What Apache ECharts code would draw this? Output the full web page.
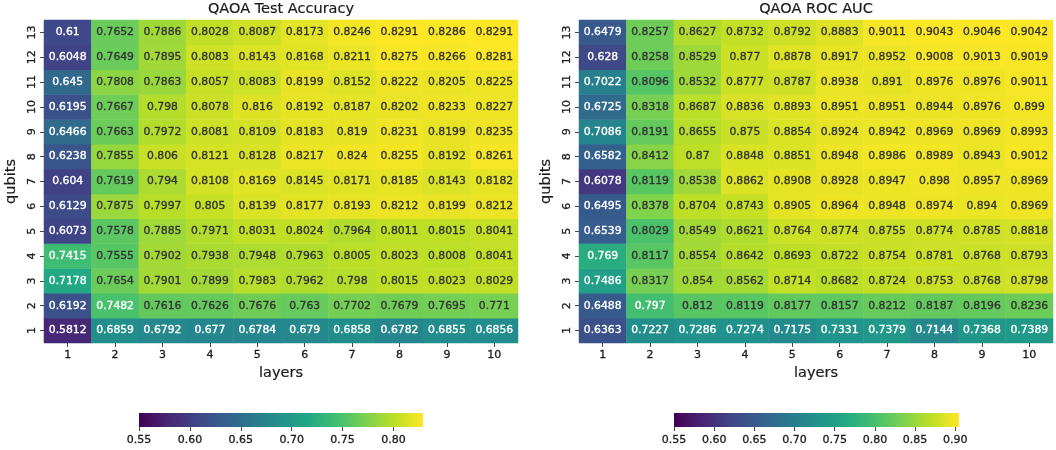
<!DOCTYPE html>
<html><head><meta charset="utf-8">
<script src="https://cdn.jsdelivr.net/npm/echarts@6/dist/echarts.min.js"></script>
<style>html,body{margin:0;padding:0;background:#fff}#c{width:1056px;height:450px}</style>
</head><body><div id="c"></div>
<script>
// ---- data ----
const layers = ['1','2','3','4','5','6','7','8','9','10'];
const qubits = ['1','2','3','4','5','6','7','8','9','10','11','12','13'];
// rows: qubits 1..13, columns: layers 1..10
const accuracy = [
  [0.5812, 0.6859, 0.6792, 0.677, 0.6784, 0.679, 0.6858, 0.6782, 0.6855, 0.6856],
  [0.6192, 0.7482, 0.7616, 0.7626, 0.7676, 0.763, 0.7702, 0.7679, 0.7695, 0.771],
  [0.7178, 0.7654, 0.7901, 0.7899, 0.7983, 0.7962, 0.798, 0.8015, 0.8023, 0.8029],
  [0.7415, 0.7555, 0.7902, 0.7938, 0.7948, 0.7963, 0.8005, 0.8023, 0.8008, 0.8041],
  [0.6073, 0.7578, 0.7885, 0.7971, 0.8031, 0.8024, 0.7964, 0.8011, 0.8015, 0.8041],
  [0.6129, 0.7875, 0.7997, 0.805, 0.8139, 0.8177, 0.8193, 0.8212, 0.8199, 0.8212],
  [0.604, 0.7619, 0.794, 0.8108, 0.8169, 0.8145, 0.8171, 0.8185, 0.8143, 0.8182],
  [0.6238, 0.7855, 0.806, 0.8121, 0.8128, 0.8217, 0.824, 0.8255, 0.8192, 0.8261],
  [0.6466, 0.7663, 0.7972, 0.8081, 0.8109, 0.8183, 0.819, 0.8231, 0.8199, 0.8235],
  [0.6195, 0.7667, 0.798, 0.8078, 0.816, 0.8192, 0.8187, 0.8202, 0.8233, 0.8227],
  [0.645, 0.7808, 0.7863, 0.8057, 0.8083, 0.8199, 0.8152, 0.8222, 0.8205, 0.8225],
  [0.6048, 0.7649, 0.7895, 0.8083, 0.8143, 0.8168, 0.8211, 0.8275, 0.8266, 0.8281],
  [0.61, 0.7652, 0.7886, 0.8028, 0.8087, 0.8173, 0.8246, 0.8291, 0.8286, 0.8291]
];
const rocAuc = [
  [0.6363, 0.7227, 0.7286, 0.7274, 0.7175, 0.7331, 0.7379, 0.7144, 0.7368, 0.7389],
  [0.6488, 0.797, 0.812, 0.8119, 0.8177, 0.8157, 0.8212, 0.8187, 0.8196, 0.8236],
  [0.7486, 0.8317, 0.854, 0.8562, 0.8714, 0.8682, 0.8724, 0.8753, 0.8768, 0.8798],
  [0.769, 0.8117, 0.8554, 0.8642, 0.8693, 0.8722, 0.8754, 0.8781, 0.8768, 0.8793],
  [0.6539, 0.8029, 0.8549, 0.8621, 0.8764, 0.8774, 0.8755, 0.8774, 0.8785, 0.8818],
  [0.6495, 0.8378, 0.8704, 0.8743, 0.8905, 0.8964, 0.8948, 0.8974, 0.894, 0.8969],
  [0.6078, 0.8119, 0.8538, 0.8862, 0.8908, 0.8928, 0.8947, 0.898, 0.8957, 0.8969],
  [0.6582, 0.8412, 0.87, 0.8848, 0.8851, 0.8948, 0.8986, 0.8989, 0.8943, 0.9012],
  [0.7086, 0.8191, 0.8655, 0.875, 0.8854, 0.8924, 0.8942, 0.8969, 0.8969, 0.8993],
  [0.6725, 0.8318, 0.8687, 0.8836, 0.8893, 0.8951, 0.8951, 0.8944, 0.8976, 0.899],
  [0.7022, 0.8096, 0.8532, 0.8777, 0.8787, 0.8938, 0.891, 0.8976, 0.8976, 0.9011],
  [0.628, 0.8258, 0.8529, 0.877, 0.8878, 0.8917, 0.8952, 0.9008, 0.9013, 0.9019],
  [0.6479, 0.8257, 0.8627, 0.8732, 0.8792, 0.8883, 0.9011, 0.9043, 0.9046, 0.9042]
];
const accTicks = [0.55, 0.60, 0.65, 0.70, 0.75, 0.80];
const aucTicks = [0.55, 0.60, 0.65, 0.70, 0.75, 0.80, 0.85, 0.90];
const titles = ['QAOA Test Accuracy', 'QAOA ROC AUC'];

// ---- rendering ----
const FONT = 'DejaVu Sans';
const INK = '#1a1a1a';
const DARK = '#333333';
const viridis = ['#440154','#482475','#414487','#355f8d','#2a788e','#21918c','#22a884','#44bf70','#7ad151','#bddf26','#fde725'];
const vmin = 0.55;
const accMax = Math.max(...accuracy.flat());
const aucMax = Math.max(...rocAuc.flat());

function cells(mat, vmax) {
  const out = [];
  mat.forEach((row, yi) => row.forEach((v, xi) => {
    const t = (v - vmin) / (vmax - vmin);
    const c = t < 0.7115 ? '#ffffff' : DARK;
    out.push({ value: [xi, yi, v], label: { color: c, textBorderColor: c } });
  }));
  return out;
}

const chart = echarts.init(document.getElementById('c'), null, { renderer: 'canvas' });
const heatGrids = [
  { left: 44, top: 20, width: 474, height: 323 },
  { left: 579, top: 20, width: 474, height: 323 }
];
const barGrids = [
  { left: 139, top: 413, width: 284, height: 14 },
  { left: 674, top: 413, width: 285, height: 14 }
];
const tickStyle = { show: true, length: 4, lineStyle: { color: '#333', width: 0.9 } };
const lblStyle = { fontFamily: FONT, fontSize: 11, color: INK, textBorderColor: INK, textBorderWidth: 0.3 };
const nameStyle = { fontFamily: FONT, fontSize: 14.5, color: INK, textBorderColor: INK, textBorderWidth: 0.2 };

function catX(i) {
  return {
    type: 'category', gridIndex: i, data: layers, position: 'bottom',
    name: 'layers', nameLocation: 'middle', nameGap: 19,
    nameTextStyle: nameStyle,
    axisLine: { show: false }, splitLine: { show: false },
    axisTick: Object.assign({ alignWithLabel: true }, tickStyle),
    axisLabel: Object.assign({ margin: 7 }, lblStyle)
  };
}
function catY(i) {
  return {
    type: 'category', gridIndex: i, data: qubits,
    name: 'qubits', nameLocation: 'middle', nameGap: 25,
    nameTextStyle: nameStyle,
    axisLine: { show: false }, splitLine: { show: false },
    axisTick: Object.assign({ alignWithLabel: true }, tickStyle),
    axisLabel: Object.assign({ margin: 6, rotate: 90 }, lblStyle)
  };
}
function barX(i, vmax, ticks) {
  return {
    type: 'value', gridIndex: i, min: vmin, max: vmax,
    axisLine: { show: false }, splitLine: { show: false },
    axisTick: Object.assign({ customValues: ticks }, tickStyle),
    axisLabel: Object.assign({ customValues: ticks, margin: 8, formatter: v => v.toFixed(2) }, lblStyle)
  };
}
function barY(i) {
  return { type: 'value', gridIndex: i, min: 0, max: 1, show: false };
}
function colorbar(xi, lo, hi) {
  return {
    type: 'custom', xAxisIndex: xi, yAxisIndex: xi, silent: true,
    data: [[lo, hi]],
    renderItem: function (params, api) {
      const p0 = api.coord([api.value(0), 0]);
      const p1 = api.coord([api.value(1), 1]);
      const stops = viridis.map((c, k) => ({ offset: k / (viridis.length - 1), color: c }));
      return {
        type: 'rect',
        shape: { x: p0[0], y: p1[1], width: p1[0] - p0[0], height: p0[1] - p1[1] },
        style: { fill: new echarts.graphic.LinearGradient(0, 0, 1, 0, stops) }
      };
    }
  };
}
function heat(i, mat) {
  return {
    type: 'heatmap', xAxisIndex: i, yAxisIndex: i, data: cells(mat, i === 0 ? accMax : aucMax),
    label: { show: true, fontFamily: FONT, fontSize: 10.8, textBorderWidth: 0.35,
      formatter: p => String(p.value[2]) },
    itemStyle: { borderWidth: 0 },
    emphasis: { disabled: true }
  };
}

chart.setOption({
  animation: false,
  backgroundColor: '#fff',
  title: [
    { text: titles[0], left: 281, top: 0, textAlign: 'center', padding: [2, 0, 0, 0],
      textStyle: Object.assign({ fontWeight: 'normal' }, nameStyle) },
    { text: titles[1], left: 816, top: 0, textAlign: 'center', padding: [2, 0, 0, 0],
      textStyle: Object.assign({ fontWeight: 'normal' }, nameStyle) }
  ],
  grid: [heatGrids[0], heatGrids[1], barGrids[0], barGrids[1]],
  xAxis: [catX(0), catX(1), barX(2, accMax, accTicks), barX(3, aucMax, aucTicks)],
  yAxis: [catY(0), catY(1), barY(2), barY(3)],
  visualMap: [
    { type: 'continuous', show: false, seriesIndex: 0, dimension: 2, min: vmin, max: accMax, inRange: { color: viridis } },
    { type: 'continuous', show: false, seriesIndex: 1, dimension: 2, min: vmin, max: aucMax, inRange: { color: viridis } }
  ],
  series: [heat(0, accuracy), heat(1, rocAuc), colorbar(2, vmin, accMax), colorbar(3, vmin, aucMax)]
});
</script>
</body></html>
